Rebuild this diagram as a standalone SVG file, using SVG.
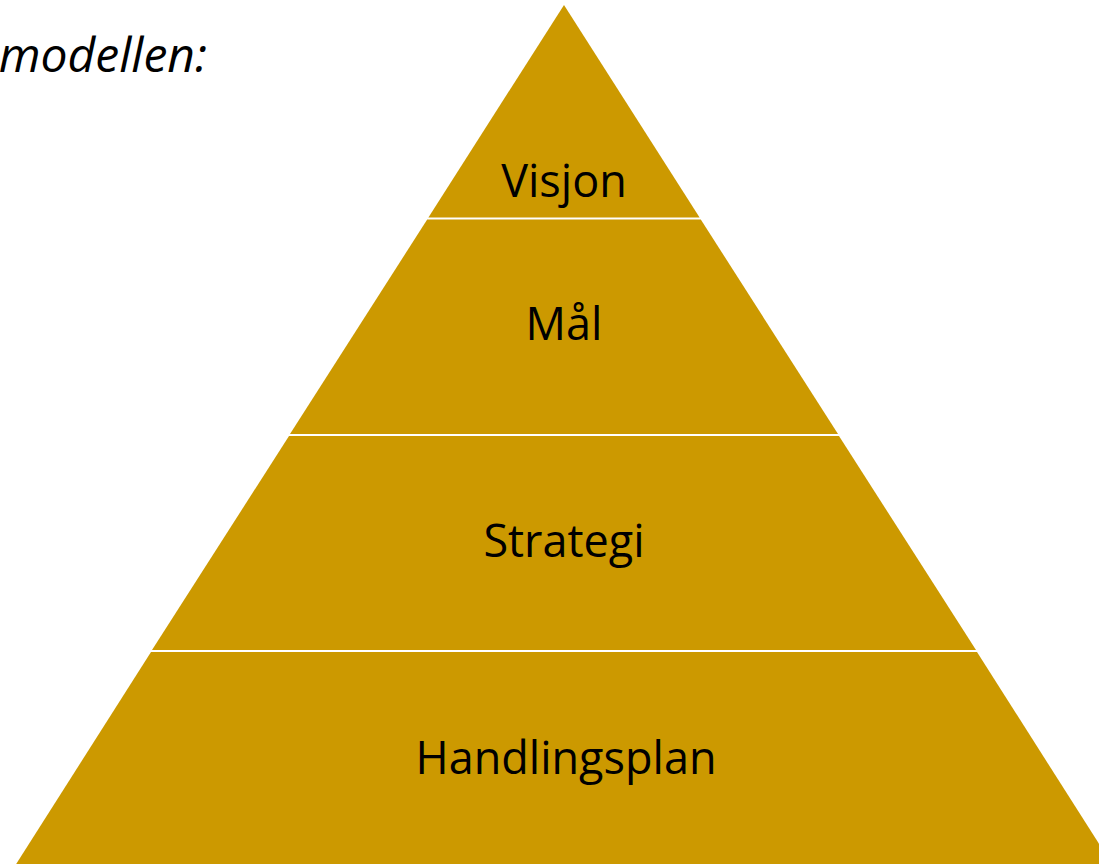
<svg xmlns="http://www.w3.org/2000/svg" width="1099" height="864" viewBox="0 0 1099 864">
  <style>
    .band { fill: #CC9900; }
    .lbl { font-family: "Open Sans", "Noto Sans", sans-serif; font-size: 45px; fill: #000; text-anchor: middle; }
    .title { font-family: "Open Sans", "Noto Sans", sans-serif; font-size: 48px; font-style: italic; fill: #000; text-anchor: end; }
  </style>
  <rect width="1099" height="864" fill="#FFFFFF"/>
  <text class="title" x="207" y="72">modellen:</text>
  <g id="visjon">
    <polygon class="band" points="564,5 699.6,217.5 428.4,217.5"/>
    <text class="lbl" x="564" y="197">Visjon</text>
  </g>
  <g id="maal">
    <polygon class="band" points="427.2,219.5 700.8,219.5 838,434 290,434"/>
    <text class="lbl" x="564" y="340">Mål</text>
  </g>
  <g id="strategi">
    <polygon class="band" points="289,436 839,436 976,650 152,650"/>
    <text class="lbl" x="564" y="557">Strategi</text>
  </g>
  <g id="handlingsplan">
    <polygon class="band" points="151,652 977,652 1115,869 13,869"/>
    <text class="lbl" x="566" y="774">Handlingsplan</text>
  </g>
</svg>
